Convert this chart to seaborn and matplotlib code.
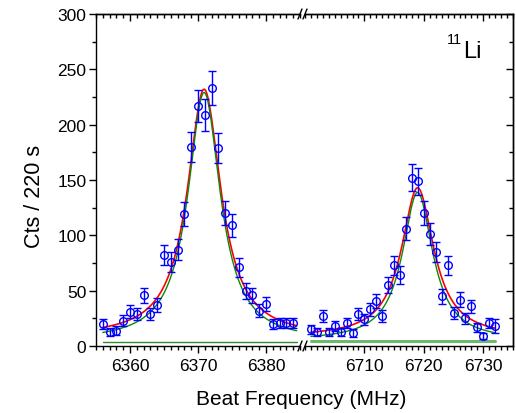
import numpy as np
import matplotlib
matplotlib.use('Agg')
import matplotlib.pyplot as plt
from matplotlib.ticker import MultipleLocator
from matplotlib.lines import Line2D
import seaborn as sns

sns.set_theme(style='ticks', rc={'text.color': 'black', 'axes.labelcolor': 'black',
                                 'xtick.color': 'black', 'ytick.color': 'black',
                                 'axes.edgecolor': 'black'})
plt.rcParams['font.family'] = ['Liberation Sans', 'DejaVu Sans']

# left peak data (MHz, counts)
freq_left = [6356, 6357, 6358, 6359, 6360, 6361, 6362, 6363, 6364, 6365,
             6366, 6367, 6368, 6369, 6370, 6371, 6372, 6373, 6374, 6375,
             6376, 6377, 6378, 6379, 6380, 6381, 6382, 6383, 6384]
cts_left = [20, 13, 14, 23, 31, 29, 46, 29, 37, 82,
            76, 87, 119, 180, 217, 209, 233, 179, 120, 109,
            71, 50, 46, 32, 38, 20, 21, 21, 21]
err_left = [4.5, 3.6, 3.7, 4.8, 5.6, 5.4, 6.8, 5.4, 6.1, 9.1,
            8.7, 9.3, 10.9, 13.4, 14.7, 14.5, 15.3, 13.4, 11.0, 10.4,
            8.4, 7.1, 6.8, 5.7, 6.2, 4.5, 4.6, 4.6, 4.6]

# right peak data
freq_right = [6701, 6702, 6703, 6704, 6705, 6706, 6707, 6708, 6709, 6710,
              6711, 6712, 6713, 6714, 6715, 6716, 6717, 6718, 6719, 6720,
              6721, 6722, 6723, 6724, 6725, 6726, 6727, 6728, 6729, 6730,
              6731, 6732]
cts_right = [15, 13, 27, 13, 18, 13, 21, 12, 29, 24,
             33, 41, 27, 55, 73, 64, 106, 152, 149, 120,
             101, 85, 45, 73, 30, 42, 25, 36, 17, 9,
             21, 18]
err_right = [3.9, 3.6, 5.2, 3.6, 4.2, 3.6, 4.6, 3.5, 5.4, 4.9,
             5.7, 6.4, 5.2, 7.4, 8.5, 8.0, 10.3, 12.3, 12.2, 11.0,
             10.0, 9.2, 6.7, 8.5, 5.5, 6.5, 5.0, 6.0, 4.1, 3.0,
             4.6, 6.5]

ticks_left = [6360, 6370, 6380]
ticks_right = [6710, 6720, 6730]

# fit parameters: center, amplitude, half width, background
fit_red = {'left': (6370.9, 224, 3.0, 8), 'right': (6718.95, 135, 3.3, 8)}
fit_green = {'left': (6370.9, 225, 2.9, 4), 'right': (6718.95, 134, 3.1, 4.8)}
bg_left, bg_right = 3.3, 4.8

xl_left = (6355, 6385)
xl_right = (6700, 6735)


def lorentz(x, c, a, g, b):
    return b + a / (1 + ((x - c) / g) ** 2)


W, H = 516, 414
fig = plt.figure(figsize=(W / 100, H / 100), dpi=100)
y0, y1 = 347, 15
ax1 = fig.add_axes([96 / W, 1 - y0 / H, 204 / W, (y0 - y1) / H])
ax2 = fig.add_axes([305 / W, 1 - y0 / H, 208 / W, (y0 - y1) / H])

panels = [
    (ax1, freq_left, cts_left, err_left, 'left', bg_left, (6356, 6384.5), xl_left, ticks_left),
    (ax2, freq_right, cts_right, err_right, 'right', bg_right, (6701, 6732), xl_right, ticks_right),
]

for ax, fx, cy, ey, key, bg, span, xl, tk in panels:
    xs = np.linspace(span[0], span[1], 400)
    sns.lineplot(x=xs, y=lorentz(xs, *fit_red[key]), ax=ax, color='#ff0000', linewidth=1.2)
    sns.lineplot(x=xs, y=lorentz(xs, *fit_green[key]), ax=ax, color='#0a8a0a', linewidth=1.0)
    if key == 'left':
        sns.lineplot(x=[span[0], span[1]], y=[bg, bg], ax=ax, color='#2e8b2e', linewidth=1.0)
    else:
        sns.lineplot(x=[span[0], span[1]], y=[bg, bg], ax=ax, color='#6cb86c', linewidth=2.2)
    ax.errorbar(fx, cy, yerr=ey, fmt='o', mfc='none', mec='#0000ff', ecolor='#0000ff',
                ms=5.5, mew=1.0, elinewidth=1.0, capsize=3, capthick=1.0, zorder=5)
    ax.set_xlim(*xl)
    ax.set_ylim(0, 300)
    ax.set_xticks(tk)
    ax.xaxis.set_minor_locator(MultipleLocator(1))
    ax.yaxis.set_major_locator(MultipleLocator(50))
    ax.yaxis.set_minor_locator(MultipleLocator(25))
    ax.tick_params(axis='x', which='major', direction='out', length=5, width=1,
                   labelsize=12.5, pad=4, bottom=True, top=False)
    ax.tick_params(axis='x', which='minor', direction='out', length=3, width=1,
                   bottom=True, top=False)
    for s in ax.spines.values():
        s.set_linewidth(1.0)
    ax.set_xlabel('')
    ax.set_ylabel('')
    # inward ticks along the top
    top = ax.secondary_xaxis('top')
    top.set_xticks(tk)
    top.xaxis.set_minor_locator(MultipleLocator(1))
    top.tick_params(axis='x', which='major', direction='in', length=5, width=1, labeltop=False)
    top.tick_params(axis='x', which='minor', direction='in', length=3, width=1)
    top.spines['top'].set_linewidth(1.0)

ax1.spines['right'].set_visible(False)
ax1.tick_params(axis='y', which='major', direction='out', length=5, width=1,
                labelsize=12.5, pad=2, left=True, right=False)
ax1.tick_params(axis='y', which='minor', direction='out', length=3, width=1,
                left=True, right=False)

ax2.spines['left'].set_visible(False)
ax2.tick_params(axis='y', which='both', left=False, right=False, labelleft=False)
rt = ax2.secondary_yaxis('right')
rt.yaxis.set_major_locator(MultipleLocator(50))
rt.yaxis.set_minor_locator(MultipleLocator(25))
rt.tick_params(axis='y', which='major', direction='in', length=5, width=1, labelright=False)
rt.tick_params(axis='y', which='minor', direction='in', length=3, width=1)
rt.spines['right'].set_linewidth(1.0)

# axis break marks
for yb in (y1, y0):
    for xb in (298, 303):
        fig.add_artist(Line2D([xb / W, (xb + 4) / W], [1 - (yb + 5) / H, 1 - (yb - 5) / H],
                              color='black', linewidth=1.0))

ax2.text(6726.6, 261, 'Li', fontsize=17, ha='left', va='baseline')
ax2.text(6726.5, 274, '11', fontsize=10.5, ha='right', va='baseline')

fig.text(301 / W, 1 - 400 / H, 'Beat Frequency (MHz)', fontsize=15, ha='center', va='center')
fig.text(35 / W, 1 - 196 / H, 'Cts / 220 s', fontsize=15.5, ha='center', va='center', rotation=90)

fig.savefig('out.png', dpi=100)
